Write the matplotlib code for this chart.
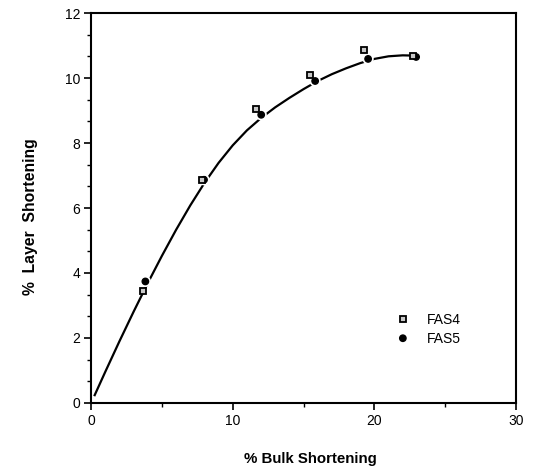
import matplotlib.pyplot as plt
import matplotlib.patheffects as pe
from matplotlib.ticker import MultipleLocator

plt.rcParams['font.family'] = ['Liberation Sans', 'DejaVu Sans']

# measured points
fas4_x = [3.67, 7.81, 11.64, 15.47, 19.30, 22.76]
fas4_y = [3.46, 6.87, 9.05, 10.10, 10.85, 10.69]
fas5_x = [3.83, 7.97, 12.01, 15.82, 19.56, 22.95]
fas5_y = [3.74, 6.87, 8.87, 9.91, 10.59, 10.65]

# fitted curve
curve_x = [0.25, 1, 2, 3, 4, 5, 6, 7, 8, 9, 10, 11, 12, 13, 14, 15, 16, 17,
           18, 19, 20, 21, 22, 23]
curve_y = [0.24, 0.96, 1.90, 2.81, 3.69, 4.53, 5.33, 6.08, 6.77, 7.39, 7.93,
           8.39, 8.77, 9.10, 9.39, 9.66, 9.91, 10.12, 10.30, 10.46, 10.59,
           10.67, 10.70, 10.69]

fig = plt.figure(figsize=(5.33, 4.68), dpi=100)
ax = fig.add_axes([0.171, 0.139, 0.797, 0.833])

ax.plot(curve_x, curve_y, color='black', lw=1.6, zorder=2)
halo = [pe.withStroke(linewidth=3.5, foreground='white')]
ax.plot(fas5_x, fas5_y, ls='none', marker='o', ms=4.6, mfc='black',
        mec='black', label='FAS5', zorder=3, path_effects=halo)
ax.plot(fas4_x, fas4_y, ls='none', marker='s', ms=4.2, mfc='#c8c8c8',
        mec='black', mew=1.3, label='FAS4', zorder=4)

ax.set_xlim(0, 30)
ax.set_ylim(0, 12)
ax.xaxis.set_major_locator(MultipleLocator(10))
ax.xaxis.set_minor_locator(MultipleLocator(5))
ax.yaxis.set_major_locator(MultipleLocator(2))
ax.yaxis.set_minor_locator(MultipleLocator(2 / 3))
ax.tick_params(which='major', direction='out', length=5, width=1.2,
               labelsize=10, pad=3)
ax.tick_params(which='minor', direction='out', length=3, width=1)
for s in ax.spines.values():
    s.set_linewidth(1.5)

ax.set_xlabel('% Bulk Shortening', fontsize=10.8, fontweight='bold')
ax.set_ylabel('%  Layer  Shortening', fontsize=11.3, fontweight='bold')
ax.xaxis.set_label_coords(0.515, -0.125)
ax.yaxis.set_label_coords(-0.125, 0.479)

handles, labels = ax.get_legend_handles_labels()
ax.legend(handles[::-1], labels[::-1], loc='upper left',
          bbox_to_anchor=(0.688, 0.264), frameon=False,
          fontsize=10, handletextpad=1.2, labelspacing=0.4, handlelength=1)

fig.savefig('out.png', dpi=100)
